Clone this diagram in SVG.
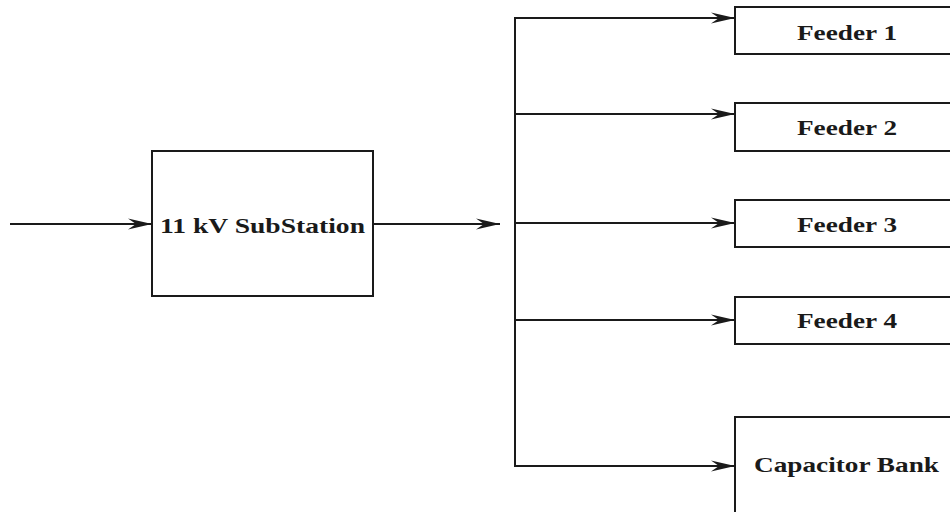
<svg xmlns="http://www.w3.org/2000/svg" width="950" height="512" viewBox="0 0 950 512">
<style>
.box{fill:#fff;stroke:#1a1a1a;stroke-width:2}
.ln{fill:none;stroke:#1a1a1a;stroke-width:2}
.lbl{font-family:'Liberation Serif','Times New Roman',serif;font-weight:bold;font-size:21px;fill:#1a1a1a}
</style>
<defs>
<marker id="arr" markerUnits="userSpaceOnUse" markerWidth="26" markerHeight="14" viewBox="-26 -7 26 14" refX="0" refY="0" orient="auto">
<path d="M0,0 L-24,-5.5 L-16,0 L-24,5.5 Z" fill="#1a1a1a"/>
</marker>
</defs>
<rect width="950" height="512" fill="#fff"/>
<g id="connectors">
<line class="ln" x1="10" y1="224" x2="152" y2="224" marker-end="url(#arr)"/>
<line class="ln" x1="373" y1="224" x2="500" y2="224" marker-end="url(#arr)"/>
<line class="ln" x1="515" y1="17" x2="515" y2="466"/>
<line class="ln" x1="514" y1="18" x2="735" y2="18" marker-end="url(#arr)"/>
<line class="ln" x1="514" y1="114" x2="735" y2="114" marker-end="url(#arr)"/>
<line class="ln" x1="514" y1="223" x2="735" y2="223" marker-end="url(#arr)"/>
<line class="ln" x1="514" y1="320" x2="735" y2="320" marker-end="url(#arr)"/>
<line class="ln" x1="514" y1="466" x2="735" y2="466" marker-end="url(#arr)"/>
</g>
<g id="substation">
<rect class="box" x="152" y="151" width="221" height="145"/>
<text class="lbl" x="160" y="233" textLength="205" lengthAdjust="spacingAndGlyphs">11 kV SubStation</text>
</g>
<g id="feeder1">
<rect class="box" x="735" y="7" width="230" height="47"/>
<text class="lbl" x="797" y="40" textLength="100" lengthAdjust="spacingAndGlyphs">Feeder 1</text>
</g>
<g id="feeder2">
<rect class="box" x="735" y="103" width="230" height="48"/>
<text class="lbl" x="797" y="135" textLength="100" lengthAdjust="spacingAndGlyphs">Feeder 2</text>
</g>
<g id="feeder3">
<rect class="box" x="735" y="200" width="230" height="47"/>
<text class="lbl" x="797" y="232" textLength="100" lengthAdjust="spacingAndGlyphs">Feeder 3</text>
</g>
<g id="feeder4">
<rect class="box" x="735" y="297" width="230" height="47"/>
<text class="lbl" x="797" y="328" textLength="100" lengthAdjust="spacingAndGlyphs">Feeder 4</text>
</g>
<g id="capacitor-bank">
<rect class="box" x="735" y="417" width="230" height="110"/>
<text class="lbl" x="754" y="472" textLength="185" lengthAdjust="spacingAndGlyphs">Capacitor Bank</text>
</g>
</svg>
